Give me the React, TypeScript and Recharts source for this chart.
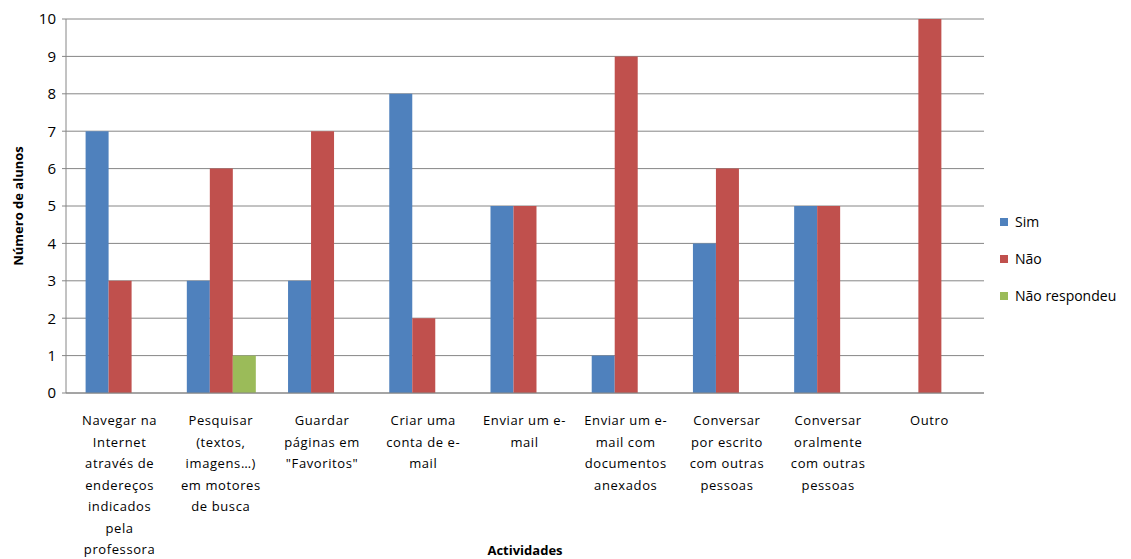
import React from 'react';
import { BarChart, Bar, XAxis, YAxis, CartesianGrid, Legend, Label } from 'recharts';

const categories = [
  'Navegar na\nInternet\natravés de\nendereços\nindicados\npela\nprofessora',
  'Pesquisar\n(textos,\nimagens…)\nem motores\nde busca',
  'Guardar\npáginas em\n"Favoritos"',
  'Criar uma\nconta de e-\nmail',
  'Enviar um e-\nmail',
  'Enviar um e-\nmail com\ndocumentos\nanexados',
  'Conversar\npor escrito\ncom outras\npessoas',
  'Conversar\noralmente\ncom outras\npessoas',
  'Outro',
];
const sim = [7, 3, 3, 8, 5, 1, 4, 5, 0];
const nao = [3, 6, 7, 2, 5, 9, 6, 5, 10];
const naoRespondeu = [0, 1, 0, 0, 0, 0, 0, 0, 0];
const yTicks = [0, 1, 2, 3, 4, 5, 6, 7, 8, 9, 10];

const seriesNames = ['Sim', 'Não', 'Não respondeu'];
const colors = ['#4F81BD', '#C0504D', '#9BBB59'];

const data = categories.map((c, i) => ({
  cat: c,
  s0: sim[i],
  s1: nao[i],
  s2: naoRespondeu[i],
}));

const FONT = '"Open Sans", "Noto Sans", sans-serif';

const CatTick = (props: any) => {
  const { x, y, payload } = props;
  const lines = String(payload.value).split('\n');
  return (
    <text x={x} y={y} textAnchor="middle" fontFamily={FONT} fontSize={13} fill="#000" letterSpacing={0.6}>
      {lines.map((l, i) => (
        <tspan key={i} x={x} y={y + 24 + i * 21.5}>{l}</tspan>
      ))}
    </text>
  );
};

const LegendContent = () => (
  <div style={{ fontFamily: FONT, fontSize: 14, color: '#000' }}>
    {seriesNames.map((n, i) => (
      <div key={n} style={{ display: 'flex', alignItems: 'center', height: 37 }}>
        <span style={{ display: 'inline-block', width: 8, height: 8, background: colors[i], marginRight: 7 }} />
        <span>{n}</span>
      </div>
    ))}
  </div>
);

const YLabel = (props: any) => {
  const vb = props.viewBox;
  const cx = 18;
  const cy = vb.y + vb.height / 2;
  return (
    <text x={cx} y={cy} transform={`rotate(-90 ${cx} ${cy})`} textAnchor="middle" dominantBaseline="central"
      fontFamily={FONT} fontSize={13} fontWeight="bold" fill="#000">
      Número de alunos
    </text>
  );
};

export default function App() {
  return (
    <div style={{ position: 'absolute', left: 0, top: 0, width: 1131, height: 559, background: '#fff' }}>
      <BarChart
        width={1131}
        height={559}
        data={data}
        margin={{ top: 19, right: 16, bottom: 0, left: 0 }}
        barCategoryGap="16.4%"
        barGap={0}
      >
        <CartesianGrid vertical={false} stroke="#868686" strokeWidth={1} />
        <XAxis
          dataKey="cat"
          height={166}
          interval={0}
          padding={{ left: 3, right: 4 }}
          tickLine={false}
          axisLine={{ stroke: '#868686' }}
          tick={<CatTick />}
        >
          <Label value="Actividades" position="insideBottom" offset={4}
            style={{ fontFamily: FONT, fontSize: 13, fontWeight: 'bold', fill: '#000' }} />
        </XAxis>
        <YAxis
          width={66}
          domain={[0, 10]}
          ticks={yTicks}
          interval={0}
          tickSize={4}
          tickMargin={6}
          axisLine={{ stroke: '#868686' }}
          tickLine={{ stroke: '#868686' }}
          tick={{ fontFamily: FONT, fontSize: 15, fill: '#000' }}
        >
          <Label content={<YLabel />} />
        </YAxis>
        <Legend
          layout="vertical"
          align="right"
          verticalAlign="top"
          content={<LegendContent />}
          wrapperStyle={{ left: 1000, top: 203, width: 131 }}
        />
        {seriesNames.map((n, i) => (
          <Bar key={n} dataKey={`s${i}`} name={n} fill={colors[i]} isAnimationActive={false} />
        ))}
      </BarChart>
    </div>
  );
}
